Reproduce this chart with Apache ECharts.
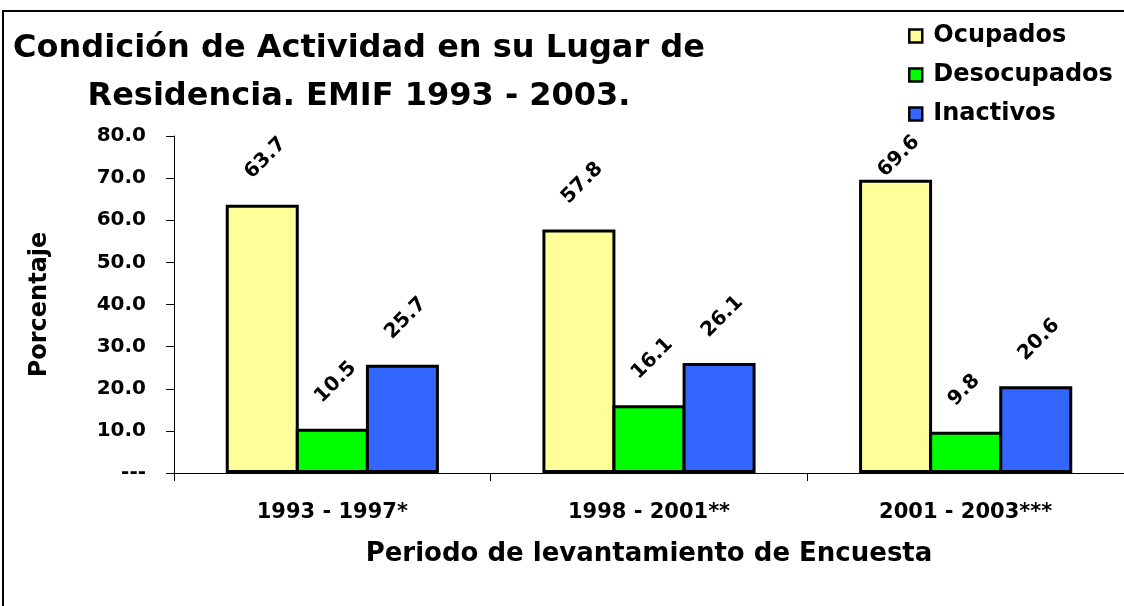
<!DOCTYPE html>
<html>
<head>
<meta charset="utf-8">
<script src="https://cdn.jsdelivr.net/npm/echarts@6/dist/echarts.min.js"></script>
<style>
  html, body { margin: 0; padding: 0; background: #fff; }
  #main { width: 1124px; height: 606px; }
</style>
</head>
<body>
<div id="main"></div>
<script>
const categories = ['1993 - 1997*', '1998 - 2001**', '2001 - 2003***'];
const ocupados = [63.7, 57.8, 69.6];
const desocupados = [10.5, 16.1, 9.8];
const inactivos = [25.7, 26.1, 20.6];
const yTicks = [0, 10, 20, 30, 40, 50, 60, 70, 80];

const FONT = 'DejaVu Sans';

var chart = echarts.init(document.getElementById('main'));

function makeSeries(name, values, color) {
  return {
    name: name,
    type: 'bar',
    barWidth: 73,
    barGap: '-4%',
    data: values.map(v => ({
      value: v,
      // la etiqueta mas alta queda pegada a la barra, como en el original
      label: { distance: v > 65 ? 6 : 29 }
    })),
    itemStyle: { color: color, borderColor: '#000', borderWidth: 3 },
    label: {
      show: true,
      position: 'top',
      rotate: 45,
      align: 'left',
      verticalAlign: 'middle',
      offset: [-10, -10],
      fontFamily: FONT,
      fontWeight: 'bold',
      fontSize: 20,
      color: '#000',
      formatter: p => p.value.toFixed(1)
    }
  };
}

var option = {
  backgroundColor: '#fff',
  animation: false,
  title: {
    text: 'Condición de Actividad en su Lugar de\nResidencia. EMIF 1993 - 2003.',
    left: 354,
    top: 20,
    textAlign: 'center',
    textStyle: {
      fontFamily: FONT,
      fontWeight: 'bold',
      fontSize: 32,
      lineHeight: 48,
      color: '#000'
    }
  },
  legend: {
    orient: 'vertical',
    left: 903,
    top: 19,
    itemGap: 15,
    itemWidth: 13,
    itemHeight: 13,
    icon: 'rect',
    itemStyle: { borderColor: '#000', borderWidth: 2.5 },
    textStyle: { fontFamily: FONT, fontWeight: 'bold', fontSize: 24, color: '#000', padding: [0, 0, 0, 6] },
    data: ['Ocupados', 'Desocupados', 'Inactivos']
  },
  graphic: [{
    type: 'rect',
    shape: { x: 3, y: 11, width: 1200, height: 700 },
    style: { fill: 'none', stroke: '#000', lineWidth: 2 },
    silent: true
  }],
  grid: { left: 174, top: 136, width: 954, bottom: 133 },
  xAxis: {
    type: 'category',
    data: categories,
    name: 'Periodo de levantamiento de Encuesta',
    nameLocation: 'middle',
    nameGap: 68,
    nameTextStyle: { fontFamily: FONT, fontWeight: 'bold', fontSize: 26, color: '#000' },
    axisLine: { lineStyle: { color: '#000', width: 1 } },
    axisTick: { show: true, length: 8, lineStyle: { color: '#000' } },
    axisLabel: { fontFamily: FONT, fontWeight: 'bold', fontSize: 21, color: '#000', margin: 29 }
  },
  yAxis: {
    type: 'value',
    min: yTicks[0],
    max: yTicks[yTicks.length - 1],
    interval: 10,
    name: 'Porcentaje',
    nameLocation: 'middle',
    nameGap: 122,
    nameTextStyle: { fontFamily: FONT, fontWeight: 'bold', fontSize: 24, color: '#000' },
    axisLine: { show: true, lineStyle: { color: '#000', width: 1 } },
    axisTick: { show: true, length: 8, lineStyle: { color: '#000' } },
    splitLine: { show: false },
    axisLabel: {
      fontFamily: FONT, fontWeight: 'bold', fontSize: 20, color: '#000', margin: 28,
      formatter: v => (v === 0 ? '---' : v.toFixed(1))
    }
  },
  series: [
    makeSeries('Ocupados', ocupados, '#FFFF99'),
    makeSeries('Desocupados', desocupados, '#00FF00'),
    makeSeries('Inactivos', inactivos, '#3366FF')
  ]
};

chart.setOption(option);
</script>
</body>
</html>
